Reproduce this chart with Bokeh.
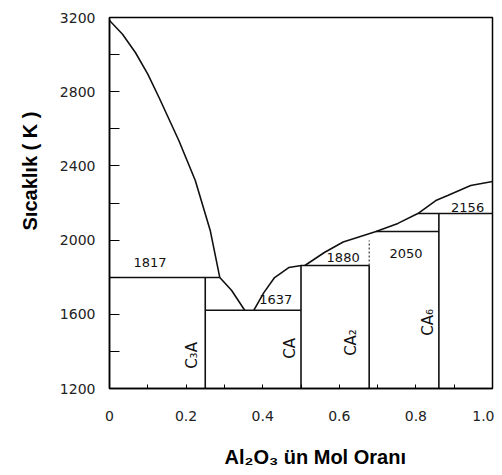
import math
from bokeh.plotting import figure
from bokeh.models import ColumnDataSource, FixedTicker, Title
from bokeh.core.properties import value
from bokeh.embed import file_html
from bokeh.resources import INLINE

# ---- data (x = Al2O3 mole fraction, T in K) ----
cao_x = [0.0, 0.034, 0.068, 0.10, 0.129, 0.181, 0.224, 0.263, 0.288]
cao_T = [3184, 3110, 3010, 2895, 2770, 2537, 2321, 2052, 1798]
c3a_x = [0.288, 0.319, 0.353]
c3a_T = [1798, 1728, 1622]
ca_x = [0.377, 0.403, 0.431, 0.468, 0.501]
ca_T = [1622, 1717, 1798, 1852, 1863]
ca2_x = [0.510, 0.561, 0.610, 0.696]
ca2_T = [1863, 1933, 1990, 2046]
ca6_x = [0.696, 0.753, 0.805]
ca6_T = [2046, 2090, 2143]
al_x = [0.805, 0.852, 0.883, 0.943, 1.0]
al_T = [2143, 2213, 2240, 2294, 2316]

iso_T = [1798, 1622, 1863, 2046, 2143]
iso_x0 = [0.0, 0.25, 0.5, 0.696, 0.805]
iso_x1 = [0.288, 0.5, 0.678, 0.860, 1.0]
iso_labels = ["1817", "1637", "1880", "2050", "2156"]
iso_lx = [0.106, 0.434, 0.610, 0.774, 0.935]
iso_lT = [1879, 1680, 1906, 1928, 2176]

comp_x = [0.25, 0.5, 0.678, 0.860]
comp_top = [1798, 1863, 1863, 2143]
comp_names = ["C\u2083A", "CA", "CA\u2082", "CA\u2086"]
comp_lx = [0.216, 0.470, 0.631, 0.831]
comp_lT = [1378, 1416, 1448, 1556]

ca2_ext_T = [1863, 1998]

x_ticks = [0.0, 0.2, 0.4, 0.6, 0.8, 1.0]
x_tick_labels = ["0", "0.2", "0.4", "0.6", "0.8", "1.0"]
x_minor = [0.1, 0.3, 0.5, 0.7, 0.9]
y_ticks = [1200, 1600, 2000, 2400, 2800, 3200]
y_minor = [1400, 1800, 2200, 2600, 3000]

x_title = "Al\u2082O\u2083 \u00fcn Mol Oran\u0131"
y_title = "S\u0131cakl\u0131k ( K )"

# ---- figure ----
p = figure(width=494, height=475, x_range=(0, 1), y_range=(1200, 3200),
           output_backend="svg", toolbar_location=None,
           min_border_left=107, min_border_right=2, min_border_top=17, min_border_bottom=87)
p.xgrid.visible = False
p.ygrid.visible = False
p.outline_line_color = "black"
p.outline_line_width = 1.5
p.background_fill_color = "white"
p.border_fill_color = "white"

ink = "#111111"
lw = 1.6

for xs, ts in [(cao_x, cao_T), (c3a_x, c3a_T), (ca_x, ca_T), (ca2_x, ca2_T), (ca6_x, ca6_T), (al_x, al_T)]:
    p.line(xs, ts, line_color=ink, line_width=lw)

p.segment(x0=iso_x0, y0=iso_T, x1=iso_x1, y1=iso_T, line_color=ink, line_width=lw)
p.segment(x0=comp_x, y0=[1200] * len(comp_x), x1=comp_x, y1=comp_top, line_color=ink, line_width=lw)
p.line([comp_x[2], comp_x[2]], ca2_ext_T, line_color=ink, line_width=1, line_dash="2 2")

src_iso = ColumnDataSource(dict(x=iso_lx, y=iso_lT, t=iso_labels))
p.text(x="x", y="y", text="t", source=src_iso, text_align="center", text_baseline="middle",
       text_font=value("DejaVu Sans"), text_font_size="13px", text_color=ink)

src_comp = ColumnDataSource(dict(x=comp_lx, y=comp_lT, t=comp_names))
p.text(x="x", y="y", text="t", source=src_comp, angle=math.pi / 2, text_align="center",
       text_baseline="middle", text_font=value("DejaVu Sans"), text_font_size="15px", text_color=ink)

# axes
p.xaxis.ticker = FixedTicker(ticks=x_ticks, minor_ticks=x_minor)
p.xaxis.major_label_overrides = {t: l for t, l in zip(x_ticks, x_tick_labels)}
p.yaxis.ticker = FixedTicker(ticks=y_ticks, minor_ticks=y_minor)
for ax in (p.xaxis, p.yaxis):
    ax.axis_line_color = "black"
    ax.axis_line_width = 1.5
    ax.major_tick_out = 0
    ax.minor_tick_out = 0
    ax.major_tick_line_color = "black"
    ax.minor_tick_line_color = "black"
    ax.major_label_text_font = "DejaVu Sans"
    ax.major_label_text_font_size = "14px"
    ax.major_label_text_color = "#222222"
    ax.major_label_text_font_style = "normal"
p.xaxis.major_label_standoff = 22
p.xaxis.major_tick_in = 4
p.xaxis.minor_tick_in = 4
p.yaxis.major_tick_in = 10
p.yaxis.minor_tick_in = 10
p.yaxis.major_label_standoff = 14

# axis titles placed as in the picture (an empty title is used as spacing below the x axis)
p.add_layout(Title(text=" ", standoff=17, text_font_size="1px"), "below")
p.add_layout(Title(text=x_title, align="left", offset=115, standoff=0,
                   text_font="Liberation Sans", text_font_style="bold",
                   text_font_size="20px", text_color="black"), "below")
p.add_layout(Title(text=y_title, align="left", offset=158, standoff=32,
                   text_font="Liberation Sans", text_font_style="bold",
                   text_font_size="20px", text_color="black"), "left")

open("out.html", "w").write(file_html(p, INLINE))
